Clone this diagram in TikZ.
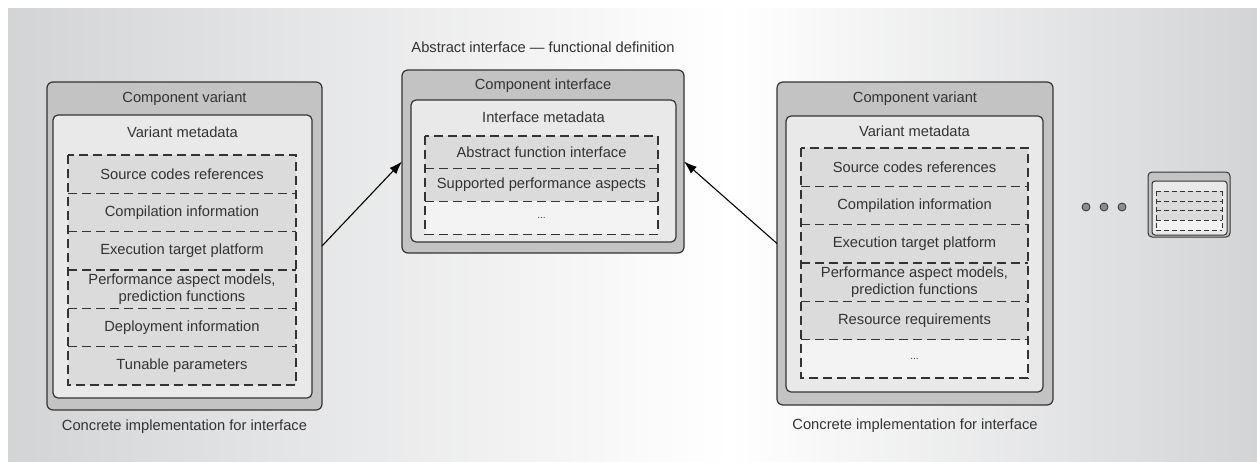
\documentclass[tikz,border=0pt]{standalone}
\usepackage{fontspec}
\setmainfont{Liberation Sans}
\usetikzlibrary{arrows.meta,positioning,calc}

\definecolor{ink}{HTML}{333333}
\definecolor{bgside}{HTML}{D3D4D6}
\definecolor{shellgray}{HTML}{C3C3C3}
\definecolor{metagray}{HTML}{E9E9E9}
\definecolor{fieldgray}{HTML}{DBDBDB}
\definecolor{sparegray}{HTML}{F3F3F3}

\begin{document}
\begin{tikzpicture}
[x=1pt,y=-1pt,font=\fontsize{14.7}{16.5}\selectfont,text=ink,
 shell/.style={draw=ink,fill=shellgray,line width=1.2pt,rounded corners=6pt,inner sep=0pt,outer sep=0pt,anchor=north west},
 meta/.style={draw=ink,fill=metagray,line width=1.2pt,rounded corners=5pt,inner sep=0pt,outer sep=0pt,anchor=north west},
 field/.style={fill=fieldgray,inner sep=0pt,outer sep=0pt,minimum height=38.33pt,align=center},
 spare/.style={field,fill=sparegray},
 dash line/.style={draw=ink,line width=1.2pt,dash pattern=on 9pt off 5pt},
 dot/.style={circle,draw=ink,fill=gray!90,line width=0.8pt,minimum size=8pt,inner sep=0pt},
 link/.style={-{Latex[length=13pt,width=9pt]},line width=1.1pt,black}]
  \useasboundingbox (0,0) rectangle (1257,461);

  % backdrop
  \fill[left color=bgside,right color=white] (8,8) rectangle (730,461);
  \fill[left color=white,right color=bgside] (730,8) rectangle (1257,461);

  % left variant
  \node[shell,minimum width=275,minimum height=328] (lv) at (47,82) {};
  \node[meta,minimum width=259,minimum height=283] (lvm) at (53,115) {};
  \node (lvt) at ($(lv.north)+(0,17)$) {Component variant};
  \node (lvmt) at ($(lvm.north)+(0,17)$) {Variant metadata};
  \node[field,minimum width=228,anchor=north] (l1) at (182,155) {Source codes references};
  \node[field,minimum width=228,below=0pt of l1] (l2) {Compilation information};
  \node[field,minimum width=228,below=0pt of l2] (l3) {Execution target platform};
  \node[field,minimum width=228,below=0pt of l3] (l4) {Performance aspect models,\\prediction functions};
  \node[field,minimum width=228,below=0pt of l4] (l5) {Deployment information};
  \node[field,minimum width=228,below=0pt of l5] (l6) {Tunable parameters};
  \draw[dash line] (l1.north west) rectangle (l6.south east);
  \foreach \r in {l1,l2,l3,l4,l5}
    \draw[dash line] (\r.south west) -- (\r.south east);
  \node (lvc) at ($(lv.south)+(0,17)$) {Concrete implementation for interface};

  % interface
  \node[shell,minimum width=282,minimum height=183] (mid) at (402,70) {};
  \node[meta,minimum width=265,minimum height=142] (midm) at (411,100) {};
  \node (midc) at ($(mid.north)+(0,-23)$) {Abstract interface --- functional definition};
  \node (midt) at ($(mid.north)+(0,16)$) {Component interface};
  \node (midmt) at ($(midm.north)+(0,17)$) {Interface metadata};
  \node[field,minimum width=233,minimum height=32.7pt,anchor=north] (m1) at (541.5,136) {Abstract function interface};
  \node[field,minimum width=233,minimum height=32.7pt,below=0pt of m1] (m2) {Supported performance aspects};
  \node[spare,minimum width=233,minimum height=32.7pt,below=0pt of m2] (m3) {\fontsize{10}{12}\selectfont...};
  \draw[dash line] (m1.north west) rectangle (m3.south east);
  \foreach \r in {m1,m2}
    \draw[dash line] (\r.south west) -- (\r.south east);

  % right variant
  \node[shell,minimum width=276,minimum height=323] (rv) at (777,82) {};
  \node[meta,minimum width=257,minimum height=276] (rvm) at (786,116) {};
  \node (rvt) at ($(rv.north)+(0,17)$) {Component variant};
  \node (rvmt) at ($(rvm.north)+(0,15)$) {Variant metadata};
  \node[field,minimum width=227,anchor=north] (r1) at (914.5,148) {Source codes references};
  \node[field,minimum width=227,below=0pt of r1] (r2) {Compilation information};
  \node[field,minimum width=227,below=0pt of r2] (r3) {Execution target platform};
  \node[field,minimum width=227,below=0pt of r3] (r4) {Performance aspect models,\\prediction functions};
  \node[field,minimum width=227,below=0pt of r4] (r5) {Resource requirements};
  \node[spare,minimum width=227,below=0pt of r5] (r6) {\fontsize{10}{12}\selectfont...};
  \draw[dash line] (r1.north west) rectangle (r6.south east);
  \foreach \r in {r1,r2,r3,r4,r5}
    \draw[dash line] (\r.south west) -- (\r.south east);
  \node (rvc) at ($(rv.south)+(0,21)$) {Concrete implementation for interface};

  % more variants
  \node[dot] (d1) at (1086,207) {};
  \node[dot,on grid,right=18pt of d1] (d2) {};
  \node[dot,on grid,right=18pt of d2] (d3) {};
  \node[shell,minimum width=82,minimum height=65,rounded corners=4pt,line width=1pt] (mini) at (1148,172) {};
  \node[meta,minimum width=75,minimum height=54,rounded corners=3pt,line width=1pt] (minim) at (1152,181) {};
  \fill[fieldgray] (1156,191) rectangle (1222,220);
  \fill[sparegray] (1156,220) rectangle (1222,230);
  \foreach \y in {191,201,210,220,230}
    \draw[dash line,line width=0.9pt,dash pattern=on 5pt off 3pt] (1156,\y) -- (1222,\y);
  \draw[dash line,line width=0.9pt,dash pattern=on 5pt off 3pt] (1156,191) -- (1156,230) (1222,191) -- (1222,230);

  \path
    (lv.east) edge[link] (mid.west)
    (rv.west) edge[link] (mid.east);
\end{tikzpicture}
\end{document}
